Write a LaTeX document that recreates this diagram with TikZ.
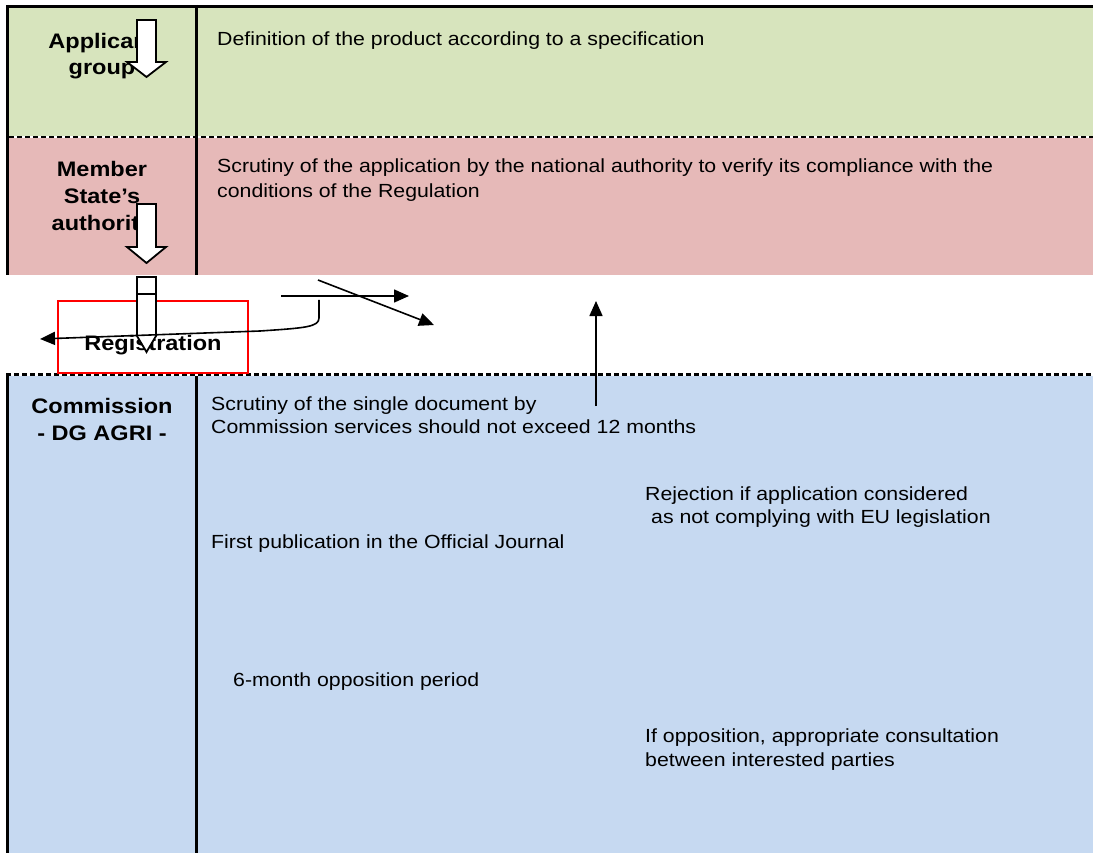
\documentclass[tikz,border=0pt]{standalone}
\usepackage{fontspec}
\setmainfont{Liberation Sans}[FakeStretch=1.12]
\usetikzlibrary{arrows.meta}

\definecolor{appgreen}{HTML}{D7E4BD}
\definecolor{mspink}{HTML}{E6B9B8}
\definecolor{comblue}{HTML}{C6D9F1}

\tikzset{
  txt/.style={anchor=base west, inner sep=0pt, font=\fontsize{19}{23}\selectfont},
  who/.style={align=center, inner sep=0pt, font=\fontsize{21}{#1}\selectfont\bfseries},
  border/.style={line width=3pt},
  sepline/.style={line width=2.5pt, dash pattern=on 5pt off 3pt},
  blockarr/.style={draw=black, fill=white, line width=1.8pt, line join=miter},
  flow/.style={line width=1.6pt, -{Triangle[length=15pt,width=13pt]}},
}

\begin{document}
\begin{tikzpicture}[x=1pt,y=-1pt]
\useasboundingbox (0,0) rectangle (1093,853);

% bands
\fill[appgreen] (7,7) rectangle (1093,137);
\fill[mspink] (7,137) rectangle (1093,275);
\fill[comblue] (7,374) rectangle (1093,853);

% frame and column rule
\draw[border] (6,6.5) -- (1093,6.5);
\draw[border] (7.5,5) -- (7.5,275);
\draw[border] (7.5,374) -- (7.5,853);
\draw[border] (196,5) -- (196,275);
\draw[border] (196,374) -- (196,853);

% dashed separators
\draw[white, line width=2.5pt] (9,137) -- (1093,137);
\draw[sepline] (9,137) -- (1093,137);
\draw[white, line width=2.5pt] (6,374.5) -- (1093,374.5);
\draw[sepline] (6,374.5) -- (1093,374.5);

% who does it
\node[who=26] (app) at (102,56) {Applicant\\group};
\node[who=27] (ms) at (102,198) {Member\\State’s\\authority};
\node[who=27] (com) at (102,419) {Commission\\- DG AGRI -};

% steps
\node[txt] (defn) at (217,46) {Definition of the product according to a specification};
\node[txt] (natA) at (217,173) {Scrutiny of the application by the national authority to verify its compliance with the};
\node[txt] (natB) at (217,198) {conditions of the Regulation};
\node[txt] (scrA) at (211,410) {Scrutiny of the single document by};
\node[txt] (scrB) at (211,433) {Commission services should not exceed 12 months};
\node[txt] (rejA) at (645,500) {Rejection if application considered};
\node[txt] (rejB) at (651,523) {as not complying with EU legislation};
\node[txt] (pub) at (211,548) {First publication in the Official Journal};
\node[txt] (opp) at (233,686) {6-month opposition period};
\node[txt] (conA) at (645,742) {If opposition, appropriate consultation};
\node[txt] (conB) at (645,766) {between interested parties};

% block arrows
\draw[blockarr] (137,20) -- (156,20) -- (156,62) -- (166,62) -- (146.5,77)
  -- (127,62) -- (137,62) -- cycle;
\draw[blockarr] (137,204) -- (156,204) -- (156,247) -- (166,247) -- (146.5,263)
  -- (127,247) -- (137,247) -- cycle;

% registration
\draw[red, line width=2.5pt] (58,301) rectangle (248,373);
\node[who=22, anchor=base] (reg) at (153,350) {Registration};
\draw[blockarr] (137,277) rectangle (156,294);
\draw[blockarr] (137,294) -- (156,294) -- (156,336) -- (146.5,352) -- (137,336) -- cycle;

% connectors
\coordinate (h1) at (281,296);
\coordinate (h2) at (409,296);
\coordinate (d1) at (318,280);
\coordinate (d2) at (434,325);
\coordinate (c1) at (319,300);
\coordinate (c2) at (40,339);
\coordinate (u1) at (596,406);
\coordinate (u2) at (596,301);
\draw[flow] (h1) -- (h2);
\draw[flow] (d1) -- (d2);
\draw[flow] (c1) -- (319,318) .. controls (319,327) and (305,328) .. (260,331) -- (c2);
\draw[flow] (u1) -- (u2);
\end{tikzpicture}
\end{document}
